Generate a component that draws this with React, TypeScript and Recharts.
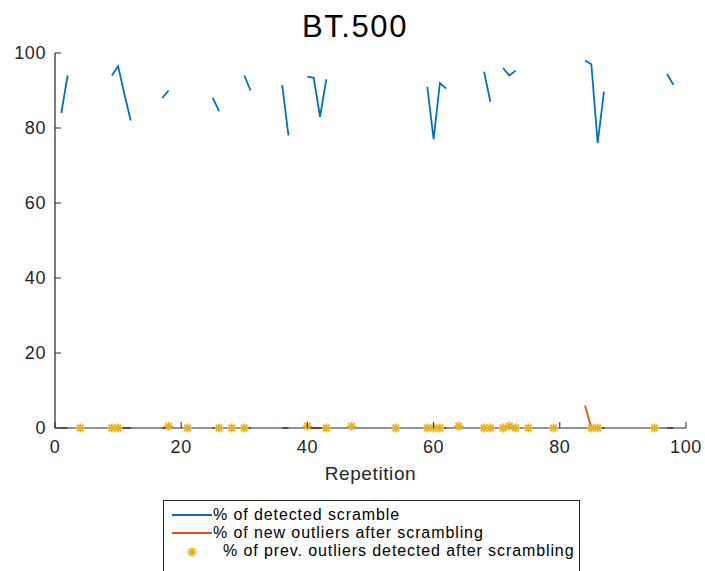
import React from 'react';
import { ComposedChart, Line, Scatter, XAxis, YAxis } from 'recharts';

// Repetition index (x axis)
const repetitions = [
  1, 2, 3, 4, 5, 6, 7, 8, 9, 10, 11, 12, 13, 14, 15, 16, 17, 18, 19, 20,
  21, 22, 23, 24, 25, 26, 27, 28, 29, 30, 31, 32, 33, 34, 35, 36, 37, 38, 39, 40,
  41, 42, 43, 44, 45, 46, 47, 48, 49, 50, 51, 52, 53, 54, 55, 56, 57, 58, 59, 60,
  61, 62, 63, 64, 65, 66, 67, 68, 69, 70, 71, 72, 73, 74, 75, 76, 77, 78, 79, 80,
  81, 82, 83, 84, 85, 86, 87, 88, 89, 90, 91, 92, 93, 94, 95, 96, 97, 98, 99, 100,
];

// Repetitions where the scramble / new-outlier percentages are defined
const detectedReps = [1, 2, 9, 10, 11, 12, 17, 18, 25, 26, 30, 31, 36, 37, 40, 41, 42, 43, 59, 60, 61, 62, 68, 69, 71, 72, 73, 84, 85, 86, 87, 97, 98];
const detectedScramble = [84, 94, 94, 96.5, 89, 82, 88, 90, 88, 84.5, 94, 90, 91.5, 78, 93.7, 93.4, 83, 93, 91, 77, 92, 90.5, 95, 87, 96, 94, 95.3, 98, 97, 76, 89.7, 94.4, 91.5];
const newOutliers = [0, 0, 0, 0, 0, 0, 0, 0, 0, 0, 0, 0, 0, 0, 0, 0, 0, 0, 0, 0, 0, 0, 0, 0, 0, 0, 0, 6, 0, 0, 0, 0, 0];

// Previous outliers detected after scrambling (marker only)
const prevReps = [4, 9, 10, 18, 21, 26, 28, 30, 40, 43, 47, 54, 59, 60, 61, 64, 68, 69, 71, 72, 73, 75, 79, 85, 86, 95];
const prevDetected = [0, 0, 0, 0.5, 0, 0, 0, 0, 0.5, 0, 0.5, 0, 0, 0, 0, 0.5, 0, 0, 0, 0.5, 0, 0, 0, 0, 0, 0];

const axisTicks = [0, 20, 40, 60, 80, 100];

const BLUE = '#0072BD';
const ORANGE = '#D95319';
const YELLOW = '#EDB120';
const AXIS = '#262626';
const FONT = '"Liberation Sans", Arial, Helvetica, sans-serif';

const rows = repetitions.map((rep) => {
  const i = detectedReps.indexOf(rep);
  return {
    rep,
    detected: i >= 0 ? detectedScramble[i] : null,
    newOut: i >= 0 ? newOutliers[i] : null,
  };
});

const prevRows = prevReps.map((rep, i) => ({ rep, prev: prevDetected[i] }));

const TICK_LEN = 6;

const BottomTick = (props: any) => {
  const { x, y, payload } = props;
  return (
    <g>
      <line x1={x} y1={y} x2={x} y2={y - TICK_LEN} stroke={AXIS} strokeWidth={1} />
      <text x={x} y={y + 25} textAnchor="middle" fontSize={18} fontFamily={FONT} fill={AXIS} letterSpacing={0.6}>
        {payload.value}
      </text>
    </g>
  );
};

const TopTick = (props: any) => {
  const { x, y } = props;
  return <line x1={x} y1={y} x2={x} y2={y + TICK_LEN} stroke={AXIS} strokeWidth={1} />;
};

const LeftTick = (props: any) => {
  const { x, y, payload } = props;
  return (
    <g>
      <line x1={x} y1={y} x2={x + TICK_LEN} y2={y} stroke={AXIS} strokeWidth={1} />
      <text x={x - 9} y={y + 6} textAnchor="end" fontSize={18} fontFamily={FONT} fill={AXIS} letterSpacing={0.6}>
        {payload.value}
      </text>
    </g>
  );
};

const RightTick = (props: any) => {
  const { x, y } = props;
  return <line x1={x} y1={y} x2={x - TICK_LEN} y2={y} stroke={AXIS} strokeWidth={1} />;
};

const Asterisk = (props: any) => {
  const { cx, cy } = props;
  if (cx == null || cy == null) return null;
  const r = 4.5;
  const d = r * 0.72;
  return (
    <g stroke={YELLOW} strokeWidth={1.8}>
      <line x1={cx - r} y1={cy} x2={cx + r} y2={cy} />
      <line x1={cx} y1={cy - r} x2={cx} y2={cy + r} />
      <line x1={cx - d} y1={cy - d} x2={cx + d} y2={cy + d} />
      <line x1={cx - d} y1={cy + d} x2={cx + d} y2={cy - d} />
    </g>
  );
};

const legendItems = [
  { label: '% of detected scramble', kind: 'line', color: BLUE },
  { label: '% of new outliers after scrambling', kind: 'line', color: ORANGE },
  { label: '% of prev. outliers detected after scrambling', kind: 'star', color: YELLOW },
];

export default function App() {
  return (
    <div
      style={{
        position: 'absolute',
        left: 0,
        top: 0,
        width: 705,
        height: 571,
        overflow: 'hidden',
        background: '#ffffff',
        fontFamily: FONT,
      }}
    >
      <div
        style={{
          position: 'absolute',
          left: 205,
          width: 300,
          top: 9,
          textAlign: 'center',
          fontSize: 31,
          letterSpacing: 1.6,
          color: '#000',
          lineHeight: '36px',
        }}
      >
        BT.500
      </div>

      <ComposedChart
        width={705}
        height={571}
        data={rows}
        margin={{ top: 53, right: 19, bottom: 113, left: 15 }}
      >
        <XAxis
          dataKey="rep"
          type="number"
          domain={[0, 100]}
          ticks={axisTicks}
          tickSize={0}
          tickMargin={0}
          tickLine={false}
          axisLine={{ stroke: AXIS, strokeWidth: 1.2 }}
          tick={<BottomTick />}
          height={30}
          interval={0}
          label={{
            value: 'Repetition',
            position: 'insideBottom',
            offset: -22,
            fontSize: 19,
            fill: AXIS,
            fontFamily: FONT,
            letterSpacing: 0.6,
          }}
        />
        <XAxis
          xAxisId="top"
          orientation="top"
          type="number"
          domain={[0, 100]}
          ticks={axisTicks}
          tickSize={0}
          tickMargin={0}
          tickLine={false}
          axisLine={{ stroke: AXIS, strokeWidth: 1.2 }}
          tick={<TopTick />}
          height={0}
          interval={0}
        />
        <YAxis
          type="number"
          domain={[0, 100]}
          ticks={axisTicks}
          tickSize={0}
          tickMargin={0}
          tickLine={false}
          axisLine={{ stroke: AXIS, strokeWidth: 1.2 }}
          tick={<LeftTick />}
          width={40}
          interval={0}
        />
        <YAxis
          yAxisId="right"
          orientation="right"
          type="number"
          domain={[0, 100]}
          ticks={axisTicks}
          tickSize={0}
          tickMargin={0}
          tickLine={false}
          axisLine={{ stroke: AXIS, strokeWidth: 1.2 }}
          tick={<RightTick />}
          width={0}
          interval={0}
        />
        <Line
          dataKey="detected"
          stroke={BLUE}
          strokeWidth={1.8}
          dot={false}
          activeDot={false}
          isAnimationActive={false}
        />
        <Line
          dataKey="newOut"
          stroke={ORANGE}
          strokeWidth={1.8}
          dot={false}
          activeDot={false}
          isAnimationActive={false}
        />
        <Scatter
          data={prevRows}
          dataKey="prev"
          shape={<Asterisk />}
          isAnimationActive={false}
        />
      </ComposedChart>

      <div
        style={{
          position: 'absolute',
          left: 163,
          top: 500,
          width: 417,
          height: 90,
          border: `1px solid ${AXIS}`,
          boxSizing: 'border-box',
          background: '#fff',
        }}
      >
        {legendItems.map((item, i) => (
          <div
            key={item.label}
            style={{
              position: 'absolute',
              left: 0,
              top: 5 + i * 18,
              height: 18,
              display: 'flex',
              alignItems: 'center',
              whiteSpace: 'nowrap',
            }}
          >
            <svg width={item.kind === 'star' ? 59 : 49} height={18} style={{ display: 'block' }}>
              {item.kind === 'line' ? (
                <line x1={8} y1={9} x2={48} y2={9} stroke={item.color} strokeWidth={1.8} />
              ) : (
                <Asterisk cx={28} cy={10} />
              )}
            </svg>
            <span style={{ fontSize: 16, letterSpacing: 0.9, color: '#000' }}>{item.label}</span>
          </div>
        ))}
      </div>
    </div>
  );
}
